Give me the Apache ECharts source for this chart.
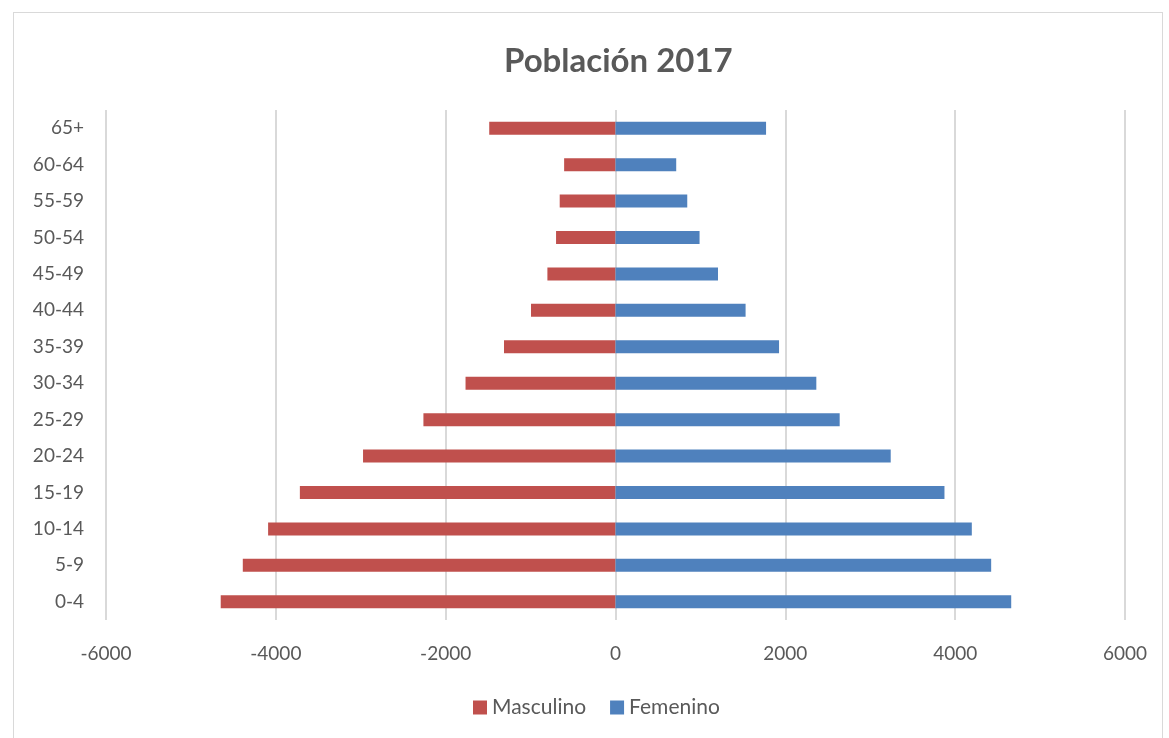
<!DOCTYPE html>
<html>
<head>
<meta charset="utf-8">
<script src="https://cdn.jsdelivr.net/npm/echarts@6/dist/echarts.min.js"></script>
<style>
html,body{margin:0;padding:0;background:#fff;}
#frame{position:absolute;left:13px;top:12px;width:1150px;height:740px;border:1px solid #d9d9d9;box-sizing:border-box;}
#chart{position:absolute;left:0;top:0;width:1169px;height:738px;}
</style>
</head>
<body>
<div id="frame"></div>
<div id="chart"></div>
<script>
const categories = ['0-4','5-9','10-14','15-19','20-24','25-29','30-34','35-39','40-44','45-49','50-54','55-59','60-64','65+'];
const masculino = [-4649,-4389,-4091,-3717,-2973,-2262,-1766,-1313,-995,-802,-700,-657,-605,-1487];
const femenino = [4660,4424,4196,3874,3241,2640,2365,1926,1532,1207,990,845,715,1773];
const xTicks = [-6000,-4000,-2000,0,2000,4000,6000];

const font = 'Lato, "Open Sans", sans-serif';
const chart = echarts.init(document.getElementById('chart'));
chart.setOption({
  animation:false,
  title:{text:'Población 2017',left:499,top:40,textStyle:{fontFamily:font,fontSize:33,fontWeight:'bold',color:'#595959'}},
  legend:{left:468,top:692,itemWidth:14,itemHeight:14,itemGap:24,icon:'rect',
    textStyle:{fontFamily:font,fontSize:21,color:'#595959'},
    data:['Masculino','Femenino']},
  grid:{left:106,right:44,top:110,bottom:118},
  xAxis:{type:'value',min:xTicks[0],max:xTicks[xTicks.length-1],interval:2000,
    axisLine:{show:false},axisTick:{show:false},
    splitLine:{lineStyle:{color:'#d9d9d9',width:2}},
    axisLabel:{fontFamily:font,fontSize:19,color:'#595959',margin:24,formatter:function(v){return String(v);}}},
  yAxis:{type:'category',data:categories,
    axisLine:{show:false},axisTick:{show:false},
    axisLabel:{fontFamily:font,fontSize:19,color:'#595959',margin:22}},
  series:[
    {name:'Masculino',type:'bar',stack:'p',data:masculino,barWidth:13,itemStyle:{color:'#c0504d'}},
    {name:'Femenino',type:'bar',stack:'p',data:femenino,barWidth:13,itemStyle:{color:'#4f81bd'}}
  ]
});
</script>
</body>
</html>
